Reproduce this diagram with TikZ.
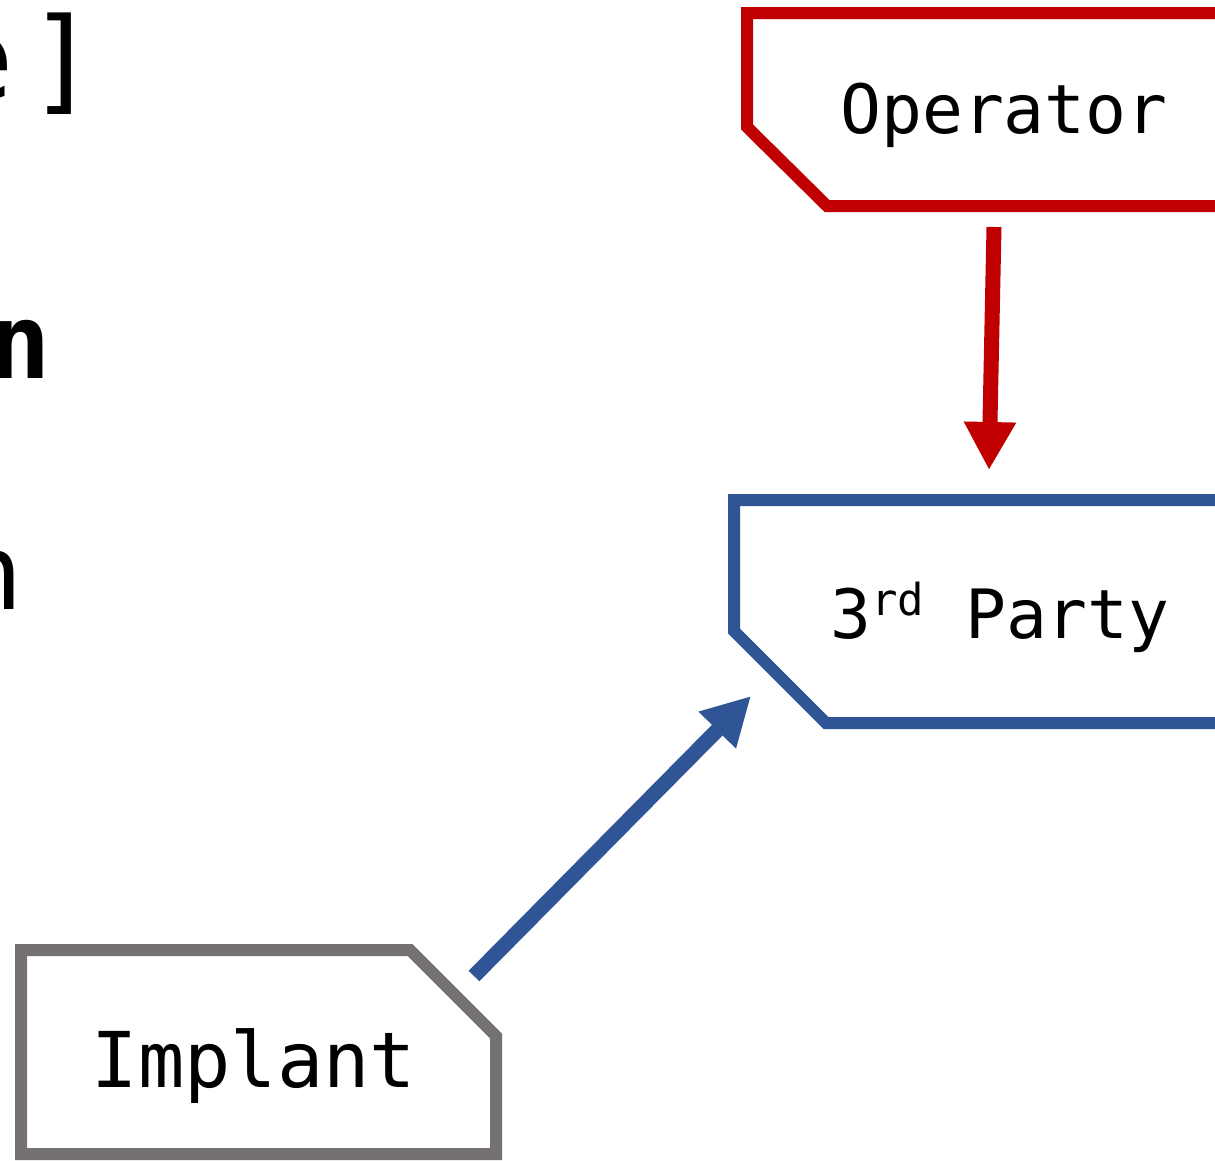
\documentclass[tikz,border=0pt]{standalone}
\usepackage{fontspec}
\newfontfamily\monofam{DejaVu Sans Mono}
\usetikzlibrary{arrows.meta}

\definecolor{opred}{HTML}{C00000}
\definecolor{tpblue}{HTML}{2F5597}
\definecolor{impgray}{HTML}{767171}

\tikzset{
  snipbox/.style={line width=12pt, line join=miter, fill=white},
  boxlabel/.style={font=\monofam\fontsize{68}{80}\selectfont, inner sep=0pt, anchor=base},
  bigtext/.style={font=\monofam\fontsize{104}{120}\selectfont, inner sep=0pt, anchor=base east},
  bigbold/.style={font=\monofam\bfseries\fontsize{104}{120}\selectfont, inner sep=0pt, anchor=base east},
  flow/.style={line width=15pt},
  flowtip/.style={-{Triangle[length=48pt, width=49pt]}}
}
% raised ordinal suffix
\newcommand\ordsuffix[1]{\raisebox{23pt}{\fontsize{44}{48}\selectfont #1}}

\begin{document}
\begin{tikzpicture}[x=1pt, y=-1pt]
  \useasboundingbox (0,0) rectangle (1215,1160);
  \clip (0,0) rectangle (1215,1160);

  % tail ends of the slide text on the left
  \node[bigtext, font=\monofam\fontsize{114}{120}\selectfont] (titleend) at (97,99) {e\kern14pt]};
  \node[bigbold] (boldend) at (51,378) {n};
  \node[bigtext] (plainend) at (23,609) {n};

  % snipped-corner boxes
  \draw[snipbox, draw=opred]
    (747,13) -- (1270,13) -- (1270,206) -- (827,206) -- (747,127) -- cycle;
  \draw[snipbox, draw=tpblue]
    (734,500) -- (1270,500) -- (1270,723) -- (826,723) -- (734,631) -- cycle;
  \draw[snipbox, draw=impgray]
    (21,950) -- (410,950) -- (496,1036) -- (496,1154) -- (21,1154) -- cycle;

  % box labels
  \node[boxlabel] (op) at (1004,133) {Operator};
  \node[boxlabel] (tp) at (1000,638) {3\ordsuffix{rd} Party};
  \node[boxlabel, font=\monofam\fontsize{77}{90}\selectfont] (imp) at (254,1087) {Implant};

  % connector ends
  \coordinate (opout) at (994,227);
  \coordinate (tpin) at (989,470);
  \coordinate (impout) at (474,976);
  \coordinate (tpside) at (751,696);

  % connectors
  \draw[flow, flowtip, draw=opred, fill=opred] (opout) -- (tpin);
  \draw[flow, flowtip, draw=tpblue, fill=tpblue] (impout) -- (tpside);
\end{tikzpicture}
\end{document}
